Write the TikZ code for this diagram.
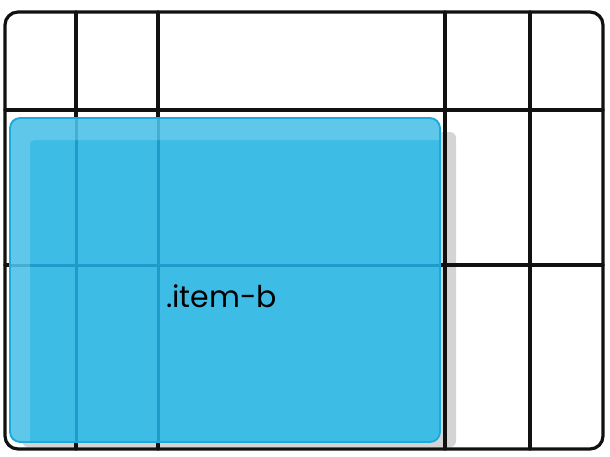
\documentclass[tikz,border=0pt]{standalone}
\usepackage{fontspec}
\newfontfamily\labelfont{Poppins}
\definecolor{gridink}{HTML}{111111}
\definecolor{itemblue}{HTML}{3DBDE6}
\definecolor{itemedge}{HTML}{1CA9DE}
\definecolor{itemline}{HTML}{1F9BCB}
\definecolor{shadowgray}{HTML}{D4D4D4}
\begin{document}
\begin{tikzpicture}[x=1pt, y=-1pt]
\tikzset{
  gridline/.style={draw=gridink, line width=3.2pt, line cap=round},
  itembox/.style={fill=itemblue, draw=itemedge, line width=1.8pt, rounded corners=10pt},
  itemlabel/.style={font=\labelfont\fontsize{30}{34}\selectfont, text=black, inner sep=0pt}
}
\useasboundingbox (0,0) rectangle (610,456);
% drop shadow behind item-b
\fill[shadowgray, rounded corners=6pt] (22,132) rectangle (456,447);
% grid container
\draw[gridline, rounded corners=13pt] (5,12) rectangle (603,449);
\foreach \x in {76,158,445,530}
  \draw[gridline] (\x,12) -- (\x,449);
\foreach \y in {110,265}
  \draw[gridline] (5,\y) -- (603,\y);
% item-b spanning three columns and two rows
\draw[itembox] (10,118) rectangle (440,442);
\begin{scope}
  \clip[rounded corners=10pt] (11,119) rectangle (439,441);
  \foreach \x in {76,158}
    \draw[itemline, line width=3pt] (\x,100) -- (\x,460);
  \draw[itemline, line width=3pt] (0,265) -- (460,265);
  \fill[white, fill opacity=0.18, even odd rule] (0,0) rectangle (610,456)
    [rounded corners=4pt] (30,140) rectangle (470,470);
\end{scope}
\node[itemlabel, anchor=base west] (itemb) at (166,307) {.item-b};
\end{tikzpicture}
\end{document}
